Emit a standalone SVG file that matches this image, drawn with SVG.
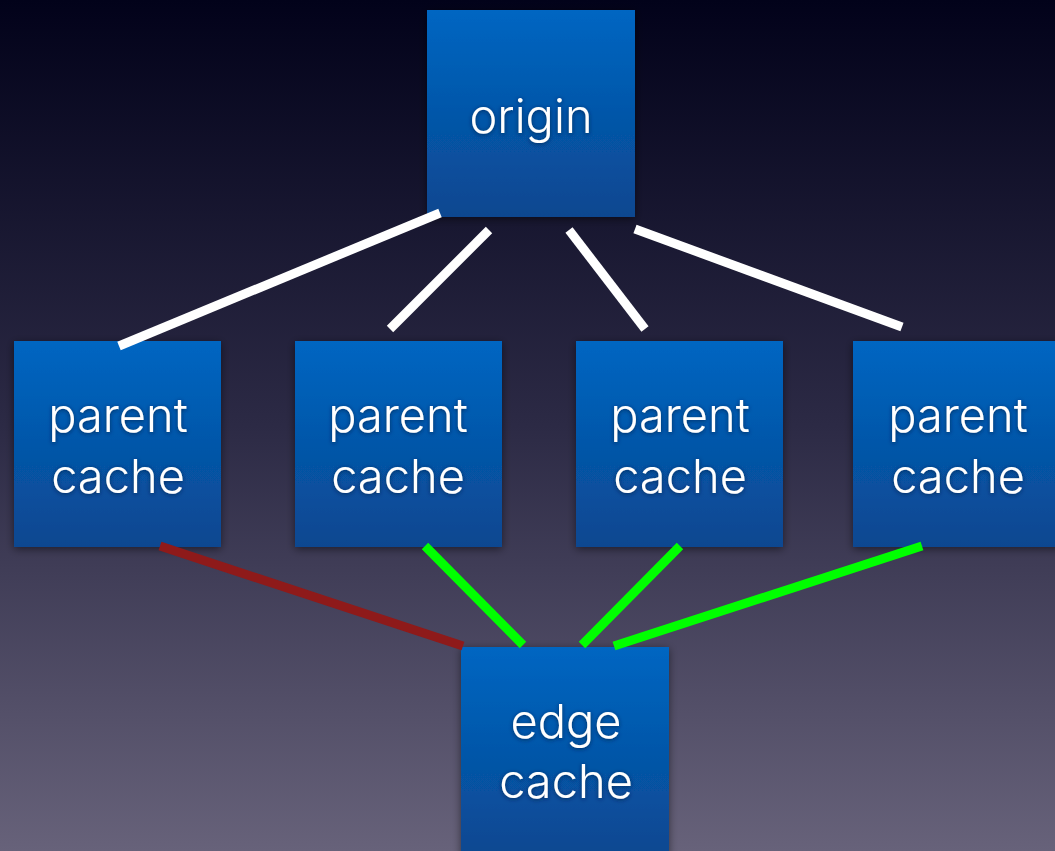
<svg xmlns="http://www.w3.org/2000/svg" width="1055" height="851" viewBox="0 0 1055 851">
  <defs>
    <linearGradient id="bg" x1="0" y1="0" x2="0" y2="1">
      <stop offset="0" stop-color="#02021a"/>
      <stop offset="0.5" stop-color="#2c2a45"/>
      <stop offset="1" stop-color="#67627a"/>
    </linearGradient>
    <linearGradient id="box" x1="0" y1="0" x2="0" y2="1">
      <stop offset="0" stop-color="#0066c2"/>
      <stop offset="1" stop-color="#0a4790"/>
    </linearGradient>
    <filter id="boxShadow" x="-10%" y="-10%" width="120%" height="120%">
      <feDropShadow dx="0" dy="2" stdDeviation="4" flood-color="#000" flood-opacity="0.5"/>
    </filter>
    <filter id="textShadow" x="-10%" y="-20%" width="120%" height="140%">
      <feDropShadow dx="0" dy="1" stdDeviation="2" flood-color="#00204a" flood-opacity="0.8"/>
    </filter>
  </defs>
  <style>
    .node rect { fill: url(#box); filter: url(#boxShadow); }
    .node text { fill: #ffffff; font-family: "Inter", "Liberation Sans", Arial, sans-serif; font-size: 47px; font-weight: 300; text-anchor: middle; filter: url(#textShadow); }
    .conn line { stroke-width: 9; stroke-linecap: butt; }
    .white { stroke: #ffffff; }
    .green { stroke: #00ff00; }
    .red { stroke: #8e1a1a; }
  </style>
  <rect x="0" y="0" width="1055" height="851" fill="url(#bg)"/>

  <g id="origin" class="node">
    <rect x="427" y="10" width="208" height="207"/>
    <text x="531" y="133">origin</text>
  </g>
  <g id="parent1" class="node">
    <rect x="14" y="341" width="207" height="206"/>
    <text x="118" y="432">parent</text>
    <text x="118" y="493">cache</text>
  </g>
  <g id="parent2" class="node">
    <rect x="295" y="341" width="207" height="206"/>
    <text x="398" y="432">parent</text>
    <text x="398" y="493">cache</text>
  </g>
  <g id="parent3" class="node">
    <rect x="576" y="341" width="207" height="206"/>
    <text x="680" y="432">parent</text>
    <text x="680" y="493">cache</text>
  </g>
  <g id="parent4" class="node">
    <rect x="853" y="341" width="208" height="206"/>
    <text x="958" y="432">parent</text>
    <text x="958" y="493">cache</text>
  </g>
  <g id="edge" class="node">
    <rect x="461" y="647" width="208" height="210"/>
    <text x="566" y="738">edge</text>
    <text x="566" y="798">cache</text>
  </g>

  <g id="connectors" class="conn">
    <line class="white" x1="440" y1="213" x2="119" y2="346"/>
    <line class="white" x1="489" y1="230" x2="390" y2="329"/>
    <line class="white" x1="569" y1="230" x2="645" y2="329"/>
    <line class="white" x1="635" y1="229" x2="902" y2="327"/>
    <line class="red" x1="160" y1="546" x2="463" y2="646"/>
    <line class="green" x1="425" y1="546" x2="523" y2="645"/>
    <line class="green" x1="680" y1="546" x2="582" y2="645"/>
    <line class="green" x1="922" y1="546" x2="614" y2="646"/>
  </g>
</svg>
